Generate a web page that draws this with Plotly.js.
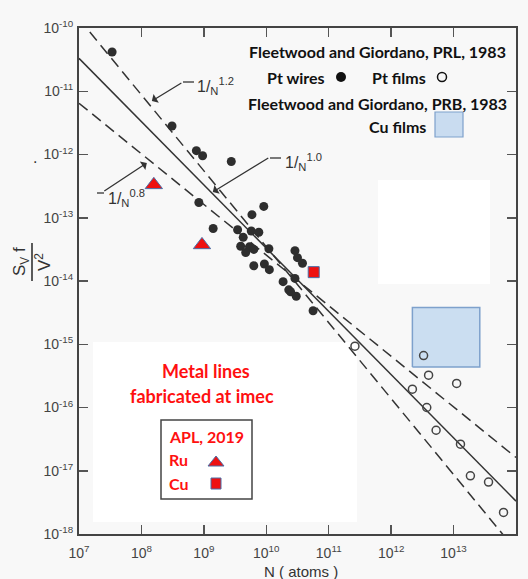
<!DOCTYPE html>
<html><head><meta charset="utf-8">
<script src="https://cdn.plot.ly/plotly-3.0.1.min.js"></script>
<style>html,body{margin:0;padding:0;background:#f8f8f8}</style>
</head><body><div id="chart" style="width:528px;height:579px"></div>
<script>
// ---- data ----
const ptWiresN = [3.39e7, 3.09e8, 7.59e8, 9.55e8, 2.75e9, 8.32e8, 1.41e9, 9.12e9, 5.89e9, 3.47e9,
                  5.75e9, 7.59e9, 4.27e9, 3.89e9, 5.37e9, 4.68e9, 6.31e9, 1.10e10, 6.31e9, 9.33e9,
                  1.12e10, 2.88e10, 3.16e10, 3.80e10, 1.86e10, 2.88e10, 2.29e10, 3.02e10, 5.62e10, 2.45e10];
const ptWiresS = [4.17e-11, 2.82e-12, 1.15e-12, 9.55e-13, 7.76e-13, 1.74e-13, 6.76e-14, 1.51e-13, 1.12e-13, 6.46e-14,
                  6.17e-14, 5.89e-14, 4.90e-14, 3.55e-14, 3.47e-14, 2.82e-14, 3.16e-14, 3.24e-14, 1.74e-14, 1.86e-14,
                  1.51e-14, 3.02e-14, 2.34e-14, 1.91e-14, 9.77e-15, 1.10e-14, 7.24e-15, 5.75e-15, 3.39e-15, 6.76e-15];
const ptFilmsN = [2.63e11, 3.31e12, 3.98e12, 1.12e13, 2.19e12, 3.72e12, 5.25e12, 1.29e13, 1.86e13, 3.63e13, 6.31e13];
const ptFilmsS = [9.33e-16, 6.61e-16, 3.24e-16, 2.40e-16, 1.95e-16, 1.00e-16, 4.37e-17, 2.63e-17, 8.32e-18, 6.61e-18, 2.19e-18];
const ruN = [1.58e8, 9.33e8];
const ruS = [3.31e-13, 3.72e-14];
const cuN = [5.75e10];
const cuS = [1.38e-14];
const cuFilmN = [2.19e12, 2.63e13];
const cuFilmS = [4.37e-16, 3.80e-15];
const fitN = [1e7, 1e14];
const fit10S = [3.31e-11, 3.31e-18];
const fit12S = [1.39e-10, 5.5e-19];
const fit08S = [6.46e-12, 1.62e-17];
const arrowTipN = [1.47e8, 1.39e9, 1.22e8];   // 1/N^1.2, 1/N^1.0, 1/N^0.8 leader tips
const arrowTipS = [7.0e-12, 2.55e-13, 7.35e-13];
const xTickVals = [1e7, 1e8, 1e9, 1e10, 1e11, 1e12, 1e13, 1e14];
const xTickText = ['10<sup>7</sup>','10<sup>8</sup>','10<sup>9</sup>','10<sup>10</sup>','10<sup>11</sup>','10<sup>12</sup>','10<sup>13</sup>','10<sup>14</sup>'];
const yTickVals = [1e-18, 1e-17, 1e-16, 1e-15, 1e-14, 1e-13, 1e-12, 1e-11, 1e-10];
const yTickText = ['10<sup>-18</sup>','10<sup>-17</sup>','10<sup>-16</sup>','10<sup>-15</sup>','10<sup>-14</sup>','10<sup>-13</sup>','10<sup>-12</sup>','10<sup>-11</sup>','10<sup>-10</sup>'];

// ---- layout helpers (pixel -> paper) ----
const L = 79, R = 516, T = 28, B = 534;
const px = x => (x - L) / (R - L);
const py = y => (B - y) / (B - T);
const ink = '#333';
const dash = '11px,6px';

const traces = [
  {x: [cuFilmN[0], cuFilmN[1], cuFilmN[1], cuFilmN[0], cuFilmN[0]],
   y: [cuFilmS[0], cuFilmS[0], cuFilmS[1], cuFilmS[1], cuFilmS[0]],
   mode: 'lines', fill: 'toself', fillcolor: 'rgba(195,217,240,0.85)',
   line: {color: '#7ea1cc', width: 1.5}, hoverinfo: 'skip'},
  {x: fitN, y: fit10S, mode: 'lines', line: {color: ink, width: 1.5}},
  {x: fitN, y: fit12S, mode: 'lines', line: {color: ink, width: 1.5, dash: dash}},
  {x: fitN, y: fit08S, mode: 'lines', line: {color: ink, width: 1.5, dash: dash}},
  {x: ptWiresN, y: ptWiresS, mode: 'markers', marker: {symbol: 'circle', size: 9, color: '#2e2e2e'}},
  {x: ptFilmsN, y: ptFilmsS, mode: 'markers', marker: {symbol: 'circle-open', size: 8, color: '#444', line: {width: 1.5}}},
  {x: ruN, y: ruS, mode: 'markers', marker: {symbol: 'triangle-up', size: 15, color: '#ee1111', line: {color: '#4a6fa8', width: 1}}},
  {x: cuN, y: cuS, mode: 'markers', marker: {symbol: 'square', size: 11, color: '#ee1111', line: {color: '#4a6fa8', width: 1}}}
];

const lgFont = {family: 'Lato, "Liberation Sans", sans-serif', size: 16, color: '#111'};
const redFont = {family: 'Lato, "Liberation Sans", sans-serif', size: 16, color: '#ff1010'};
const redBig = {family: 'Lato, "Liberation Sans", sans-serif', size: 18, color: '#ff1010'};
const figFont = {family: '"Liberation Sans", Arial, sans-serif', size: 16, color: ink};
const yLabFont = {family: '"Liberation Sans", Arial, sans-serif', size: 17, color: ink};

function pa(text, x, y, xanchor, font, extra) {
  return Object.assign({xref: 'paper', yref: 'paper', x: px(x), y: py(y), text: text,
    showarrow: false, xanchor: xanchor, yanchor: 'middle', font: font}, extra || {});
}

const annotations = [
  pa('<b>Fleetwood and Giordano, PRL, 1983</b>', 377, 52, 'center', lgFont),
  pa('<b>Pt wires</b>', 327, 77, 'right', lgFont),
  pa('<b>Pt films</b>', 428, 77, 'right', lgFont),
  pa('<b>Fleetwood and Giordano, PRB, 1983</b>', 377, 103, 'center', lgFont),
  pa('<b>Cu films</b>', 428, 126, 'right', lgFont),
  pa('<b>Metal lines</b>', 206, 371, 'center', redBig),
  pa('<b>fabricated at imec</b>', 202, 396, 'center', redBig),
  pa('<b>APL, 2019</b>', 167, 436, 'left', redFont),
  pa('<b>Ru</b>', 167, 459, 'left', redFont),
  pa('<b>Cu</b>', 167, 483, 'left', redFont),
  pa('1/<sub>N</sub><sup>1.2</sup>', 195, 86, 'left', figFont),
  pa('1/<sub>N</sub><sup>1.0</sup>', 283, 162, 'left', figFont),
  pa('1/<sub>N</sub><sup>0.8</sup>', 106, 198, 'left', figFont),
  pa('S<sub>V</sub> f', 21, 262, 'center', yLabFont, {textangle: -90}),
  pa('V<sup>2</sup>', 43, 262, 'center', yLabFont, {textangle: -90}),
  pa('N ( atoms )', 301, 571, 'center', {family: '"Liberation Sans", Arial, sans-serif', size: 15, color: ink}),
  pa('.', 35, 158, 'center', figFont)
];
const arrowTails = [[31, -19], [57, -35], [-44, 29]];
for (let i = 0; i < arrowTipN.length; i++) {
  annotations.push({xref: 'x', yref: 'y', x: Math.log10(arrowTipN[i]), y: Math.log10(arrowTipS[i]),
    text: '', showarrow: true, arrowhead: 1, arrowsize: 1.3, arrowwidth: 1.3, arrowcolor: ink,
    ax: arrowTails[i][0], ay: arrowTails[i][1]});
}

function pline(x0, y0, x1, y1, color, w) {
  return {type: 'line', xref: 'paper', yref: 'paper', x0: px(x0), y0: py(y0), x1: px(x1), y1: py(y1),
          line: {color: color, width: w}};
}
const shapes = [
  {type: 'rect', xref: 'paper', yref: 'paper', x0: px(93), x1: px(357), y0: py(522), y1: py(342),
   fillcolor: '#ffffff', line: {width: 0}, layer: 'below'},
  {type: 'rect', xref: 'paper', yref: 'paper', x0: px(378), x1: px(490), y0: py(284), y1: py(180),
   fillcolor: '#ffffff', line: {width: 0}, layer: 'below'},
  {type: 'rect', xref: 'paper', yref: 'paper', x0: px(161), x1: px(252), y0: py(499), y1: py(420),
   fillcolor: '#ffffff', line: {color: '#444', width: 1.5}, layer: 'below'},
  {type: 'circle', xref: 'paper', yref: 'paper', x0: px(336), x1: px(346), y0: py(82), y1: py(72),
   fillcolor: '#111', line: {width: 0}},
  {type: 'circle', xref: 'paper', yref: 'paper', x0: px(437.5), x1: px(446.5), y0: py(81.5), y1: py(72.5),
   line: {color: '#111', width: 1.5}},
  {type: 'rect', xref: 'paper', yref: 'paper', x0: px(435), x1: px(463), y0: py(137), y1: py(112),
   fillcolor: '#c9dcf0', line: {color: '#7ea1cc', width: 1.2}},
  {type: 'path', xref: 'paper', yref: 'paper',
   path: 'M' + px(208) + ',' + py(466) + ' L' + px(224) + ',' + py(466) + ' L' + px(216) + ',' + py(456) + ' Z',
   fillcolor: '#ee1111', line: {color: '#4a6fa8', width: 1}},
  {type: 'rect', xref: 'paper', yref: 'paper', x0: px(211), x1: px(221), y0: py(489), y1: py(478),
   fillcolor: '#ee1111', line: {color: '#4a6fa8', width: 1}},
  pline(183, 82, 194, 82, ink, 1.3),
  pline(270, 158, 281, 158, ink, 1.3),
  pline(97, 193, 104, 193, ink, 1.3),
  pline(32, 243, 32, 281, ink, 1.6)
];

const axisCommon = {type: 'log', showgrid: false, zeroline: false, showline: true, linecolor: '#444', linewidth: 2,
  mirror: 'ticks', ticks: 'inside', ticklen: 9, tickwidth: 1.5, tickcolor: '#555',
  tickmode: 'array', tickfont: {family: '"Liberation Sans", Arial, sans-serif', size: 14, color: '#444'}};

const layout = {
  width: 528, height: 579, showlegend: false,
  margin: {l: L, r: 528 - R, t: T, b: 579 - B, pad: 0},
  paper_bgcolor: '#f8f8f8', plot_bgcolor: 'rgba(0,0,0,0)',
  xaxis: Object.assign({}, axisCommon, {range: [7, 14], tickvals: xTickVals, ticktext: xTickText, ticklabelstandoff: 5}),
  yaxis: Object.assign({}, axisCommon, {range: [-18, -10], tickvals: yTickVals, ticktext: yTickText, ticklabelstandoff: 1}),
  annotations: annotations, shapes: shapes, hovermode: false
};

Plotly.newPlot('chart', traces, layout, {staticPlot: true, displayModeBar: false});
</script></body></html>
